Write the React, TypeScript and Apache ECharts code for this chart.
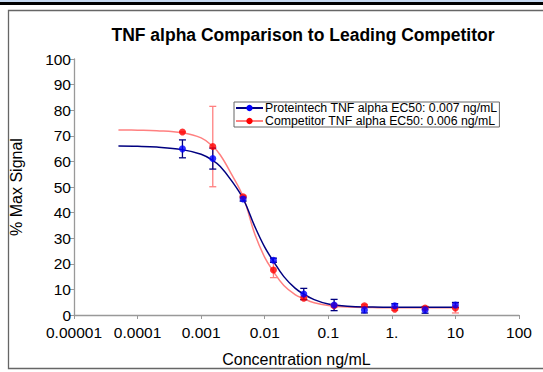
import React, { useEffect, useRef } from "react";
import * as echarts from "echarts";

const concentrations = [0.000508, 0.001524, 0.004572, 0.01372, 0.04115, 0.1235, 0.3704, 1.111, 3.333, 10];
const blueValues = [64.9, 61.1, 45.3, 21.4, 8.2, 3.9, 2.0, 3.6, 2.0, 3.9];
const blueErrors = [3.5, 4.1, 0.8, 0.8, 2.2, 2.2, 1.2, 0.8, 1.3, 1.0];
const redValues = [71.5, 65.8, 46.2, 17.6, 6.6, 3.6, 3.6, 2.3, 2.7, 2.7];
const redErrors = [0, 15.7, 0.5, 3.0, 0.6, 0.5, 0.5, 0.5, 0.5, 1.9];

const curveX = [0.00005, 0.0001, 0.0002, 0.0005, 0.001, 0.0015, 0.002, 0.003, 0.0046, 0.007, 0.01, 0.0137, 0.02, 0.03, 0.04, 0.06, 0.1, 0.2, 0.5, 1, 10];
const blueCurve = [66.0, 65.9, 65.6, 64.6, 62.8, 60.5, 58.0, 52.5, 45.3, 34.5, 26.5, 21.0, 15.0, 10.5, 8.3, 6.0, 4.3, 3.4, 3.1, 3.0, 3.0];
const redCurve = [72.3, 72.2, 72.0, 71.2, 69.2, 66.0, 62.5, 55.0, 46.0, 31.5, 22.5, 17.0, 11.5, 8.0, 6.5, 4.8, 3.7, 3.1, 2.9, 2.8, 2.8];

const xTickLabels = ["0.00001", "0.0001", "0.001", "0.01", "0.1", "1.", "10", "100"];
const blueName = "Proteintech TNF alpha EC50: 0.007 ng/mL";
const redName = "Competitor TNF alpha EC50: 0.006 ng/mL";
const titleText = "TNF alpha Comparison to Leading Competitor";

const FONT = "Arial, 'Liberation Sans', sans-serif";

export default function App() {
  const ref = useRef<HTMLDivElement>(null);
  useEffect(() => {
    if (!ref.current) return;
    const chart = echarts.init(ref.current, null, { renderer: "svg" });

    const errRender = (color: string) => (params: any, api: any) => {
      const x = api.value(0);
      const lo = api.value(1);
      const hi = api.value(2);
      const p1 = api.coord([x, hi]);
      const p2 = api.coord([x, lo]);
      const cap = 3.5;
      const style = { stroke: color, lineWidth: 1.3 };
      return {
        type: "group",
        children: [
          { type: "line", shape: { x1: p1[0], y1: p1[1], x2: p2[0], y2: p2[1] }, style },
          { type: "line", shape: { x1: p1[0] - cap, y1: p1[1], x2: p1[0] + cap, y2: p1[1] }, style },
          { type: "line", shape: { x1: p2[0] - cap, y1: p2[1], x2: p2[0] + cap, y2: p2[1] }, style },
        ],
      };
    };

    const blueErrData = concentrations.map((c, i) => [c, blueValues[i] - blueErrors[i], blueValues[i] + blueErrors[i]]);
    const redErrData = concentrations.map((c, i) => [c, redValues[i] - redErrors[i], redValues[i] + redErrors[i]]);

    chart.setOption({
      animation: false,
      backgroundColor: "#ffffff",
      title: {
        text: titleText,
        left: 298,
        textAlign: "center",
        top: 21,
        textStyle: { fontFamily: FONT, fontSize: 17.5, fontWeight: "bold", color: "#000" },
      },
      graphic: [
        { type: "rect", shape: { x: 0, y: 0, width: 543, height: 2 }, style: { fill: "#c6d9f1" }, silent: true },
        { type: "rect", shape: { x: 0, y: 2, width: 543, height: 3 }, style: { fill: "#000" }, silent: true },
        { type: "rect", shape: { x: 8.5, y: 10.5, width: 600, height: 358 }, style: { fill: "none", stroke: "#666", lineWidth: 1.3 }, silent: true },
      ],
      legend: {
        left: 234,
        top: 102,
        orient: "vertical",
        itemGap: 1,
        itemWidth: 27,
        itemHeight: 8,
        padding: [0, 2, 0, 1],
        borderColor: "#666",
        borderWidth: 1,
        borderRadius: 0,
        backgroundColor: "#fff",
        data: [blueName, redName],
        textStyle: { fontFamily: FONT, fontSize: 12.3, lineHeight: 12, color: "#000", padding: [0, 0, 0, -3] },
      },
      grid: { left: 73.5, right: 24, top: 59, bottom: 56 },
      xAxis: {
        type: "log",
        logBase: 10,
        min: 0.00001,
        max: 100,
        name: "Concentration ng/mL",
        nameLocation: "middle",
        nameGap: 36,
        nameTextStyle: { fontFamily: FONT, fontSize: 16, color: "#000" },
        axisLine: { lineStyle: { color: "#999", width: 1.3 } },
        axisTick: { show: true, length: 4, lineStyle: { color: "#999" } },
        splitLine: { show: false },
        minorTick: { show: false },
        axisLabel: {
          fontFamily: FONT,
          fontSize: 15.5,
          color: "#000",
          margin: 9,
          formatter: (v: number) => {
            const idx = Math.round(Math.log10(v)) + 5;
            return xTickLabels[idx] ?? "";
          },
        },
      },
      yAxis: {
        type: "value",
        min: 0,
        max: 100,
        interval: 10,
        name: "% Max Signal",
        nameLocation: "middle",
        nameGap: 50,
        nameTextStyle: { fontFamily: FONT, fontSize: 16, color: "#000" },
        axisLine: { show: true, lineStyle: { color: "#999", width: 1.3 } },
        axisTick: { show: true, length: 4, lineStyle: { color: "#999" } },
        splitLine: { show: false },
        axisLabel: { fontFamily: FONT, fontSize: 15.5, color: "#000", margin: 3 },
      },
      series: [
        {
          name: redName,
          type: "line",
          smooth: 0.4,
          showSymbol: false,
          symbol: "circle",
          symbolSize: 7,
          data: curveX.map((x, i) => [x, redCurve[i]]),
          lineStyle: { color: "#ff8080", width: 1.5 },
          itemStyle: { color: "#ff0000" },
          z: 2,
        },
        {
          name: blueName,
          type: "line",
          smooth: 0.4,
          showSymbol: false,
          symbol: "circle",
          symbolSize: 7,
          data: curveX.map((x, i) => [x, blueCurve[i]]),
          lineStyle: { color: "#000080", width: 1.5 },
          itemStyle: { color: "#0000ff" },
          z: 3,
        },
        {
          name: "redErr",
          type: "custom",
          renderItem: errRender("#ff8080"),
          encode: { x: 0, y: [1, 2] },
          data: redErrData,
          z: 4,
        },
        {
          name: "blueErr",
          type: "custom",
          renderItem: errRender("#000080"),
          encode: { x: 0, y: [1, 2] },
          data: blueErrData,
          z: 5,
        },
        {
          name: "redPts",
          type: "scatter",
          symbol: "circle",
          symbolSize: 7,
          data: concentrations.map((c, i) => [c, redValues[i]]),
          itemStyle: { color: "#ff0000" },
          z: 6,
        },
        {
          name: "bluePts",
          type: "scatter",
          symbol: "circle",
          symbolSize: 7,
          data: concentrations.map((c, i) => [c, blueValues[i]]),
          itemStyle: { color: "#0000ff" },
          z: 7,
        },
      ],
    });
    return () => chart.dispose();
  }, []);
  return <div ref={ref} style={{ position: "fixed", left: 0, top: 0, width: 543, height: 372 }} />;
}
